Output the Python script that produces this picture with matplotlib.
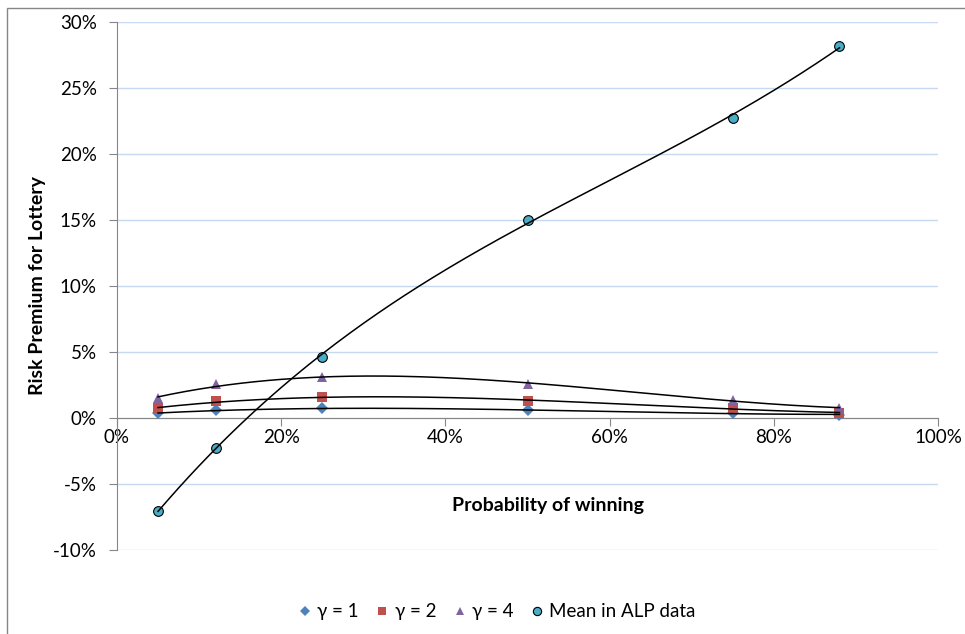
import numpy as np
import matplotlib
matplotlib.use('Agg')
import matplotlib.pyplot as plt
from matplotlib.patches import Rectangle
from matplotlib.ticker import PercentFormatter

plt.rcParams['font.family'] = ['Lato', 'DejaVu Sans']
plt.rcParams['axes.unicode_minus'] = False

prob = [0.05, 0.12, 0.25, 0.50, 0.75, 0.88]
gamma1 = [0.0036, 0.0058, 0.0073, 0.0058, 0.0036, 0.0026]
gamma2 = [0.0073, 0.0127, 0.0157, 0.0129, 0.0076, 0.0038]
gamma4 = [0.0149, 0.0255, 0.0308, 0.0257, 0.0140, 0.0073]
alp_mean = [-0.0705, -0.0227, 0.0462, 0.1503, 0.2273, 0.2816]

series = [
    ('γ = 1', gamma1, 'D', '#4F81BD', 6.0),
    ('γ = 2', gamma2, 's', '#C0504D', 6.5),
    ('γ = 4', gamma4, '^', '#8064A2', 7.5),
    ('Mean in ALP data', alp_mean, 'o', '#4BACC6', 7.0),
]

fig = plt.figure(figsize=(9.65, 6.34), dpi=100)
ax = fig.add_axes([117 / 965, 84 / 634, 821 / 965, 528 / 634])

# outer chart border (right and bottom edges are cut off)
fig.patches.append(Rectangle((7 / 965, -0.1), 2, 1.1 - 8 / 634,
                             transform=fig.transFigure, fill=False,
                             edgecolor='#868686', lw=1))

xs = np.linspace(min(prob), max(prob), 200)
handles = []
for name, vals, mk, col, ms in series:
    edge = 'black' if mk == 'o' else col
    h, = ax.plot(prob, vals, linestyle='none', marker=mk, color=col,
                 markeredgecolor=edge, markeredgewidth=0.8 if mk == 'o' else 0,
                 markersize=ms, label=name, zorder=3)
    handles.append(h)
    # polynomial trendline
    coef = np.polyfit(prob, vals, 3)
    ax.plot(xs, np.polyval(coef, xs), color='black', lw=1.1, zorder=4)

ax.set_xlim(0, 1)
ax.set_ylim(-0.10, 0.30)
ax.set_xticks(np.arange(0, 1.01, 0.2))
ax.set_yticks(np.arange(-0.10, 0.301, 0.05))
ax.xaxis.set_major_formatter(PercentFormatter(1.0, decimals=0))
ax.yaxis.set_major_formatter(PercentFormatter(1.0, decimals=0))

ax.grid(axis='y', color='#C6D9F1', lw=1)
ax.set_axisbelow(True)
for s in ['top', 'right']:
    ax.spines[s].set_visible(False)
ax.spines['bottom'].set_position(('data', 0))
ax.spines['bottom'].set_color('#868686')
ax.spines['left'].set_color('#868686')
ax.tick_params(axis='y', length=6, color='#868686', pad=8.5, labelsize=13.5)
ax.tick_params(axis='x', length=6, color='#868686', pad=2, labelsize=13.5)

ax.set_xlabel('Probability of winning', fontweight='bold', fontsize=14)
ax.xaxis.set_label_coords(0.5255, 0.1)
ax.set_ylabel('Risk Premium for Lottery', fontweight='bold', fontsize=14)
ax.yaxis.set_label_coords(-0.087, 0.5)

fig.legend(handles=handles, loc='center', bbox_to_anchor=(0.515, 0.035),
           ncol=4, frameon=False, fontsize=13.5, handlelength=0.7,
           handletextpad=0.3, columnspacing=0.9, markerscale=0.85)

plt.savefig('out.png', dpi=100)
